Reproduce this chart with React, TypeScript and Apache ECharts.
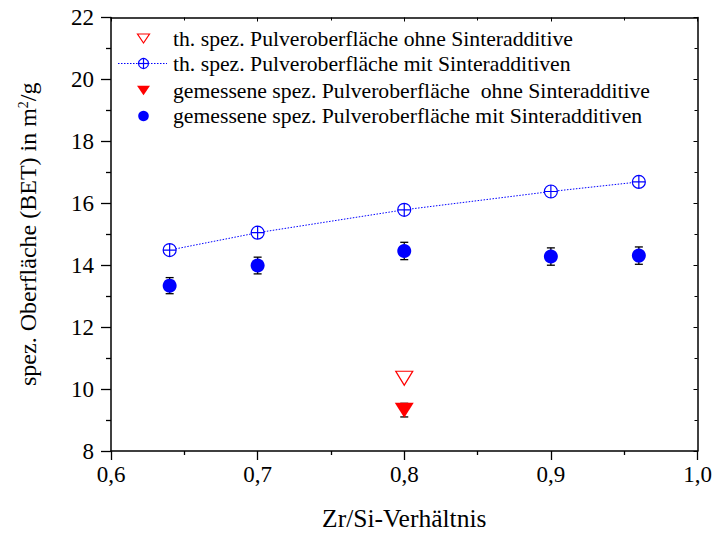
import React, { useEffect, useRef } from "react";
import * as echarts from "echarts";

const xTheoOhne = [0.8];
const yTheoOhne = [10.35];

const xTheoMit = [0.64, 0.7, 0.8, 0.9, 0.96];
const yTheoMit = [14.49, 15.05, 15.79, 16.38, 16.69];

const xMeasOhne = [0.8];
const yMeasOhne = [9.32];
const eMeasOhne = [0.22];

const xMeasMit = [0.64, 0.7, 0.8, 0.9, 0.96];
const yMeasMit = [13.34, 13.99, 14.46, 14.28, 14.31];
const eMeasMit = [0.26, 0.27, 0.28, 0.28, 0.28];

const legendLabels = [
  "th. spez. Pulveroberfläche ohne Sinteradditive",
  "th. spez. Pulveroberfläche mit Sinteradditiven",
  "gemessene spez. Pulveroberfläche  ohne Sinteradditive",
  "gemessene spez. Pulveroberfläche mit Sinteradditiven",
];

const FONT = '"Liberation Serif", "Times New Roman", serif';
const BLUE = "#0000ff";
const RED = "#ff0000";
const CROSS_CIRCLE =
  "path://M10,0A10,10,0,1,1,10,20A10,10,0,1,1,10,0ZM0,10L20,10M10,0L10,20";

function errorBarRender(params: any, api: any) {
  const x = api.value(0);
  const y = api.value(1);
  const e = api.value(2);
  const top = api.coord([x, y + e]);
  const bot = api.coord([x, y - e]);
  const w = 4;
  const st = { stroke: "#000", lineWidth: 1.3 };
  return {
    type: "group",
    children: [
      { type: "line", shape: { x1: top[0], y1: top[1], x2: bot[0], y2: bot[1] }, style: st },
      { type: "line", shape: { x1: top[0] - w, y1: top[1], x2: top[0] + w, y2: top[1] }, style: st },
      { type: "line", shape: { x1: bot[0] - w, y1: bot[1], x2: bot[0] + w, y2: bot[1] }, style: st },
    ],
  };
}

export default function App() {
  const ref = useRef<HTMLDivElement>(null);
  useEffect(() => {
    if (!ref.current) return;
    const chart = echarts.init(ref.current, null, { renderer: "svg" });

    const legX = 143.5;
    const textX = 173;
    const rows = [38.5, 63.5, 90.5, 116];

    const legendGraphics: any[] = [
      {
        type: "polygon",
        shape: { points: [[legX - 6, rows[0] - 4.5], [legX + 6, rows[0] - 4.5], [legX, rows[0] + 4.5]] },
        style: { fill: "none", stroke: RED, lineWidth: 1.2 },
      },
      {
        type: "line",
        shape: { x1: 118, y1: rows[1], x2: 167, y2: rows[1] },
        style: { stroke: BLUE, lineWidth: 1, lineDash: [1.5, 1.5] },
      },
      {
        type: "circle",
        shape: { cx: legX, cy: rows[1], r: 5 },
        style: { fill: "#fff", stroke: BLUE, lineWidth: 1.2 },
      },
      {
        type: "line",
        shape: { x1: legX - 5, y1: rows[1], x2: legX + 5, y2: rows[1] },
        style: { stroke: BLUE, lineWidth: 1.2 },
      },
      {
        type: "line",
        shape: { x1: legX, y1: rows[1] - 5, x2: legX, y2: rows[1] + 5 },
        style: { stroke: BLUE, lineWidth: 1.2 },
      },
      {
        type: "polygon",
        shape: { points: [[legX - 6.5, rows[2] - 4.7], [legX + 6.5, rows[2] - 4.7], [legX, rows[2] + 4.7]] },
        style: { fill: RED },
      },
      {
        type: "circle",
        shape: { cx: legX, cy: rows[3], r: 5.3 },
        style: { fill: BLUE },
      },
    ];
    legendLabels.forEach((t, i) => {
      legendGraphics.push({
        type: "text",
        x: textX,
        y: rows[i],
        style: {
          text: t,
          font: `21.7px ${FONT}`,
          fill: "#000",
          verticalAlign: "middle",
          align: "left",
        },
      });
    });

    const axisLine = { show: true, lineStyle: { color: "#000", width: 1.5 } };

    chart.setOption({
      animation: false,
      backgroundColor: "#fff",
      grid: { left: 111, right: 18.5, top: 17.5, bottom: 81.5, containLabel: false },
      xAxis: [
        {
          type: "value",
          position: "bottom",
          min: 0.6,
          max: 1.0,
          interval: 0.1,
          axisLine,
          axisTick: { show: true, length: 9, inside: false, lineStyle: { color: "#000", width: 1.3 } },
          minorTick: { show: true, splitNumber: 2, length: 4, lineStyle: { color: "#000", width: 1.3 } },
          splitLine: { show: false },
          axisLabel: {
            color: "#000",
            fontSize: 23,
            fontFamily: FONT,
            margin: 12,
            formatter: (v: number) => v.toFixed(1).replace(".", ","),
          },
          name: "Zr/Si-Verhältnis",
          nameLocation: "middle",
          nameGap: 54,
          nameTextStyle: { color: "#000", fontSize: 25.5, fontFamily: FONT },
        },
        {
          type: "value",
          position: "top",
          min: 0.6,
          max: 1.0,
          interval: 0.1,
          axisLine,
          axisTick: { show: true, length: 4, inside: true, lineStyle: { color: "#000", width: 1 } },
          minorTick: { show: true, splitNumber: 2, length: 3, lineStyle: { color: "#000", width: 1 } },
          splitLine: { show: false },
          axisLabel: { show: false },
        },
      ],
      yAxis: [
        {
          type: "value",
          position: "left",
          min: 8,
          max: 22,
          interval: 2,
          axisLine,
          axisTick: { show: true, length: 10, inside: false, lineStyle: { color: "#000", width: 1.3 } },
          minorTick: { show: true, splitNumber: 2, length: 5, lineStyle: { color: "#000", width: 1.3 } },
          splitLine: { show: false },
          axisLabel: { color: "#000", fontSize: 23, fontFamily: FONT, margin: 17 },
          name: "spez. Oberfläche (BET) in m{sup|2}/g",
          nameLocation: "middle",
          nameGap: 71,
          nameTextStyle: {
            color: "#000",
            fontSize: 24,
            fontFamily: FONT,
            rich: {
              sup: { fontSize: 14, fontFamily: FONT, color: "#000", verticalAlign: "top", lineHeight: 14, padding: [0, 0, 12, 0] },
            },
          },
        },
        {
          type: "value",
          position: "right",
          min: 8,
          max: 22,
          interval: 2,
          axisLine,
          axisTick: { show: true, length: 4, inside: true, lineStyle: { color: "#000", width: 1 } },
          minorTick: { show: true, splitNumber: 2, length: 3, lineStyle: { color: "#000", width: 1 } },
          splitLine: { show: false },
          axisLabel: { show: false },
        },
      ],
      series: [
        {
          name: "err mit",
          type: "custom",
          xAxisIndex: 0,
          yAxisIndex: 0,
          renderItem: errorBarRender,
          encode: { x: 0, y: 1 },
          data: xMeasMit.map((x, i) => [x, yMeasMit[i], eMeasMit[i]]),
          z: 1,
        },
        {
          name: "err ohne",
          type: "custom",
          xAxisIndex: 0,
          yAxisIndex: 0,
          renderItem: errorBarRender,
          encode: { x: 0, y: 1 },
          data: xMeasOhne.map((x, i) => [x, yMeasOhne[i], eMeasOhne[i]]),
          z: 1,
        },
        {
          name: legendLabels[1],
          type: "line",
          data: xTheoMit.map((x, i) => [x, yTheoMit[i]]),
          symbol: CROSS_CIRCLE,
          symbolSize: 13,
          showAllSymbol: true,
          lineStyle: { color: BLUE, width: 1, type: [1.5, 1.5] },
          itemStyle: { color: "#fff", borderColor: BLUE, borderWidth: 1.2, opacity: 1 },
          z: 3,
        },
        {
          name: legendLabels[0],
          type: "scatter",
          data: xTheoOhne.map((x, i) => [x, yTheoOhne[i]]),
          symbol: "triangle",
          symbolRotate: 180,
          symbolSize: [17, 14],
          itemStyle: { color: "#fff", borderColor: RED, borderWidth: 1.2, opacity: 1 },
          z: 3,
        },
        {
          name: legendLabels[2],
          type: "scatter",
          data: xMeasOhne.map((x, i) => [x, yMeasOhne[i]]),
          symbol: "triangle",
          symbolRotate: 180,
          symbolSize: [19, 15],
          itemStyle: { color: RED, opacity: 1 },
          z: 2,
        },
        {
          name: legendLabels[3],
          type: "scatter",
          data: xMeasMit.map((x, i) => [x, yMeasMit[i]]),
          symbol: "circle",
          symbolSize: 14,
          itemStyle: { color: BLUE, opacity: 1 },
          z: 2,
        },
      ],
      graphic: legendGraphics,
    });
    return () => chart.dispose();
  }, []);

  return (
    <div
      ref={ref}
      style={{ position: "fixed", left: 0, top: 0, width: 716, height: 536, background: "#fff" }}
    />
  );
}
